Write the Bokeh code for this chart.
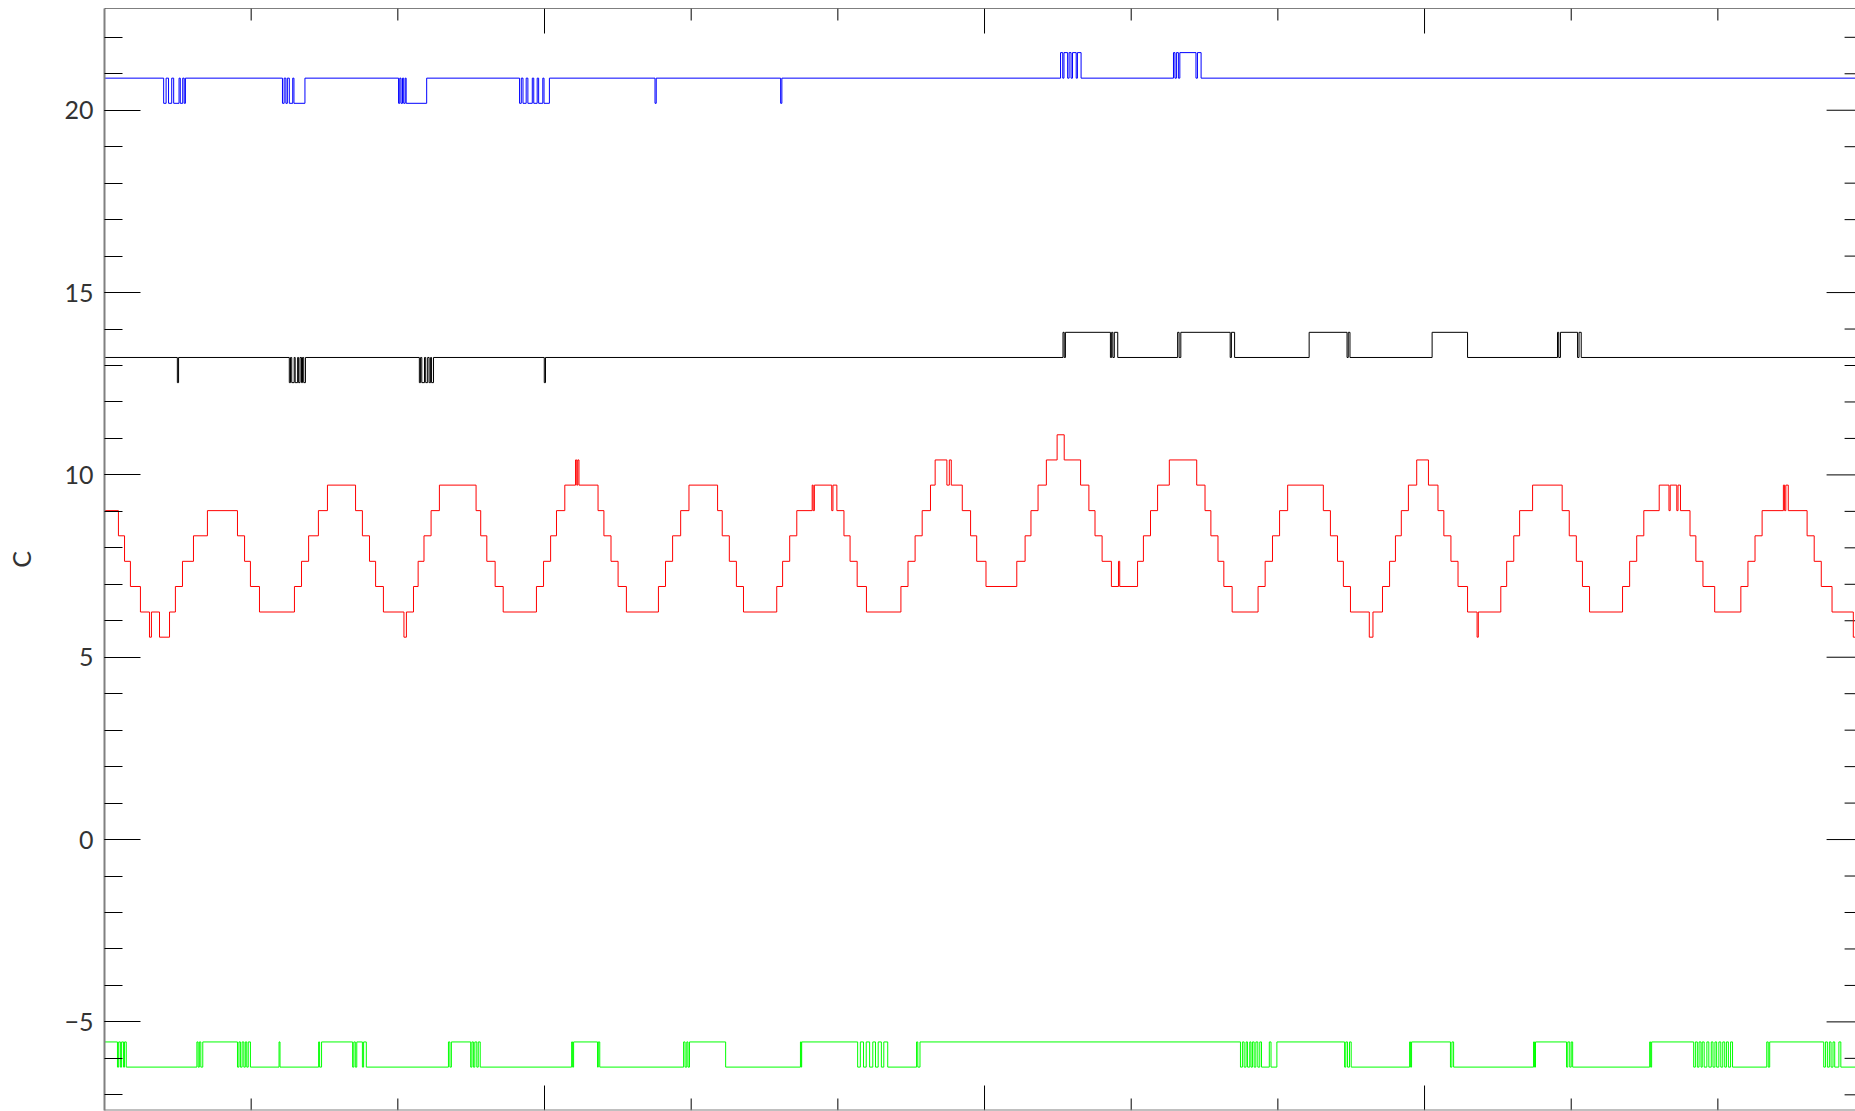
from bokeh.plotting import figure
from bokeh.models import Range1d, LinearAxis, FixedTicker, Span
from bokeh.embed import file_html
from bokeh.resources import INLINE

# ---- data (time in minutes, temperature in C) ----
red_t = [0, 5.7, 8.2, 10.6, 14.7, 18.4, 19.2, 22.5, 26.6, 29.0, 31.9, 36.4, 42.1, 54.4, 57.3, 59.7, 63.4,
         77.7, 80.6, 83.5, 87.5, 91.2, 102.7, 105.5, 108.4, 110.9, 114.1, 122.5, 123.5, 126.4, 128.3, 130.7,
         133.6, 137.0, 152.0, 153.9, 156.4, 159.8, 163.1, 176.7, 179.6, 182.5, 184.9, 188.3, 192.7, 193.2,
         193.6, 194.1, 201.9, 204.3, 207.2, 210.1, 213.5, 226.6, 229.5, 232.4, 235.7, 239.1, 250.8, 252.7,
         255.6, 258.5, 261.4, 275.0, 277.4, 280.3, 283.2, 289.5, 289.9, 290.4, 297.5, 298.0, 299.6, 302.5,
         305.0, 307.9, 311.7, 325.8, 328.7, 331.6, 334.5, 337.9, 339.8, 344.6, 345.6, 346.4, 350.9, 354.3,
         356.8, 360.6, 373.2, 376.6, 379.0, 381.9, 385.3, 389.7, 392.6, 399.3, 402.7, 405.2, 408.1, 411.9,
         414.8, 415.3, 422.6, 425.0, 427.9, 430.8, 435.6, 446.8, 450.2, 452.6, 455.5, 457.9, 461.3, 471.9,
         474.8, 477.8, 480.7, 484.0, 498.6, 501.5, 504.4, 506.8, 509.7, 517.4, 518.9, 522.8, 525.7, 528.1,
         530.5, 533.4, 536.8, 541.6, 545.5, 547.9, 550.8, 553.7, 557.6, 561.5, 562.0, 571.2, 573.6, 576.5,
         578.9, 584.2, 596.3, 599.2, 602.1, 604.6, 607.5, 621.0, 623.9, 626.8, 629.7, 636.0, 640.0, 640.5,
         643.2, 643.7, 644.7, 648.6, 651.0, 653.9, 658.7, 669.4, 672.3, 675.2, 678.1, 686.8, 687.3, 687.8,
         688.8, 696.5, 699.4, 702.3, 706.7, 715.4, 716.3]
red_v = [9.02, 8.33, 7.63, 6.94, 6.24, 5.55, 6.24, 5.55, 6.24, 6.94, 7.63, 8.33, 9.02, 8.33, 7.63, 6.94, 6.24,
         6.94, 7.63, 8.33, 9.02, 9.72, 9.02, 8.33, 7.63, 6.94, 6.24, 5.55, 6.24, 6.94, 7.63, 8.33,
         9.02, 9.72, 9.02, 8.33, 7.63, 6.94, 6.24, 6.94, 7.63, 8.33, 9.02, 9.72, 10.41, 9.72,
         10.41, 9.72, 9.02, 8.33, 7.63, 6.94, 6.24, 6.94, 7.63, 8.33, 9.02, 9.72, 9.02, 8.33,
         7.63, 6.94, 6.24, 6.94, 7.63, 8.33, 9.02, 9.72, 9.02, 9.72, 9.02, 9.72, 9.02, 8.33,
         7.63, 6.94, 6.24, 6.94, 7.63, 8.33, 9.02, 9.72, 10.41, 9.72, 10.41, 9.72, 9.02, 8.33,
         7.63, 6.94, 7.63, 8.33, 9.02, 9.72, 10.41, 11.10, 10.41, 9.72, 9.02, 8.33, 7.63, 6.94,
         7.63, 6.94, 7.63, 8.33, 9.02, 9.72, 10.41, 9.72, 9.02, 8.33, 7.63, 6.94, 6.24, 6.94,
         7.63, 8.33, 9.02, 9.72, 9.02, 8.33, 7.63, 6.94, 6.24, 5.55, 6.24, 6.94, 7.63, 8.33,
         9.02, 9.72, 10.41, 9.72, 9.02, 8.33, 7.63, 6.94, 6.24, 5.55, 6.24, 6.94, 7.63, 8.33,
         9.02, 9.72, 9.02, 8.33, 7.63, 6.94, 6.24, 6.94, 7.63, 8.33, 9.02, 9.72, 9.02, 9.72,
         9.02, 9.72, 9.02, 8.33, 7.63, 6.94, 6.24, 6.94, 7.63, 8.33, 9.02, 9.72, 9.02, 9.72,
         9.02, 8.33, 7.63, 6.94, 6.24, 5.55, 5.55]

blue_t = [0, 24.2, 25.2, 26.2, 27.5, 28.3, 30.5, 31.0, 32.0, 32.6, 33.1,
          72.8, 73.5, 74.2, 74.8, 75.6, 77.0, 77.5, 82.0,
          120.3, 120.8, 121.3, 121.9, 122.4, 123.0, 123.4, 131.8,
          169.8, 170.5, 171.2, 172.5, 173.2, 175.0, 175.6, 177.0, 177.6, 179.3, 179.8, 182.0,
          225.2, 225.7, 276.6, 277.1,
          391.1, 392.0, 392.5, 394.0, 394.6, 395.4, 396.0, 397.5, 398.0, 399.5,
          437.3, 437.9, 438.5, 439.3, 439.9, 446.5, 447.1, 448.6, 716.3]
blue_v = [20.88, 20.19, 20.88, 20.19, 20.88, 20.19, 20.88, 20.19, 20.88, 20.19, 20.88,
          20.19, 20.88, 20.19, 20.88, 20.19, 20.88, 20.19, 20.88,
          20.19, 20.88, 20.19, 20.88, 20.19, 20.88, 20.19, 20.88,
          20.19, 20.88, 20.19, 20.88, 20.19, 20.88, 20.19, 20.88, 20.19, 20.88, 20.19, 20.88,
          20.19, 20.88, 20.19, 20.88,
          21.58, 20.88, 21.58, 20.88, 21.58, 20.88, 21.58, 20.88, 21.58, 20.88,
          21.58, 20.88, 21.58, 20.88, 21.58, 20.88, 21.58, 20.88, 20.88]

black_t = [0, 29.8, 30.3, 75.6, 76.1, 76.6, 77.6, 78.0, 79.0, 79.4, 80.0, 80.6, 81.0, 81.5, 82.2,
           128.8, 129.3, 129.8, 130.9, 131.4, 132.2, 132.8, 133.4, 133.8, 134.6, 179.9, 180.4,
           392.1, 392.6, 393.1, 411.5, 412.0, 412.5, 413.1, 414.5,
           439.0, 439.6, 440.3, 460.5, 461.0, 462.3,
           492.8, 508.3, 508.8, 509.5, 543.1, 557.6,
           594.4, 594.9, 595.6, 602.6, 603.2, 604.1, 716.3]
black_v = [13.22, 12.53, 13.22, 12.53, 13.22, 12.53, 13.22, 12.53, 13.22, 12.53, 13.22, 12.53, 13.22, 12.53, 13.22,
           12.53, 13.22, 12.53, 13.22, 12.53, 13.22, 12.53, 13.22, 12.53, 13.22, 12.53, 13.22,
           13.91, 13.22, 13.91, 13.22, 13.91, 13.22, 13.91, 13.22,
           13.91, 13.22, 13.91, 13.22, 13.91, 13.22,
           13.91, 13.22, 13.91, 13.22, 13.91, 13.22,
           13.91, 13.22, 13.91, 13.22, 13.91, 13.22, 13.22]

green_t = [0, 5.3, 5.8, 6.5, 7.0, 7.8, 8.2, 8.9,
           37.8, 38.3, 38.8, 39.4, 40.2,
           54.4, 55.0, 55.6, 56.3, 57.0, 57.6, 58.2, 58.8, 59.7,
           71.4, 71.8, 87.6, 88.0, 88.8,
           101.5, 102.0, 102.6, 103.2, 105.5, 106.0, 107.1,
           140.7, 141.3, 141.9,
           149.8, 150.3, 150.9, 151.5, 152.3, 152.9, 153.7,
           191.1, 191.5, 191.9, 201.7, 202.0, 202.6,
           236.9, 237.5, 238.2, 238.7, 239.3, 254.1,
           284.7, 285.0, 285.2,
           308.1, 309.2, 310.5, 311.6, 313.0, 314.3, 315.4, 316.5, 317.8, 318.8, 320.4,
           332.2, 332.7, 333.6,
           464.7, 465.5, 466.2, 467.0, 467.6, 468.5, 469.0, 469.6, 470.3, 471.0, 471.8, 472.6, 473.3, 476.5, 477.2, 479.6,
           507.3, 507.8, 508.5, 509.3, 510.0,
           533.9, 534.3, 534.7, 550.6, 551.2, 551.9,
           584.6, 585.0, 585.4, 598.1, 598.6, 599.4, 600.0, 600.6,
           632.1, 632.5, 632.9,
           650.1, 650.8, 651.6, 652.3, 653.1, 653.6, 654.4, 655.5, 656.3, 657.3, 658.0, 658.8, 659.5, 660.4,
           661.2, 662.0, 662.8, 663.5, 664.3, 665.2, 666.0,
           680.0, 680.6, 681.2,
           703.3, 704.0, 704.8, 705.6, 706.3, 707.1, 707.8, 709.5, 710.3, 716.3]
green_v = [-5.55, -6.24, -5.55, -6.24, -5.55, -6.24, -5.55, -6.24,
           -5.55, -6.24, -5.55, -6.24, -5.55,
           -6.24, -5.55, -6.24, -5.55, -6.24, -5.55, -6.24, -5.55, -6.24,
           -5.55, -6.24, -5.55, -6.24, -5.55,
           -6.24, -5.55, -6.24, -5.55, -6.24, -5.55, -6.24,
           -5.55, -6.24, -5.55,
           -6.24, -5.55, -6.24, -5.55, -6.24, -5.55, -6.24,
           -5.55, -6.24, -5.55, -6.24, -5.55, -6.24,
           -5.55, -6.24, -5.55, -6.24, -5.55, -6.24,
           -5.55, -6.24, -5.55,
           -6.24, -5.55, -6.24, -5.55, -6.24, -5.55, -6.24, -5.55, -6.24, -5.55, -6.24,
           -5.55, -6.24, -5.55,
           -6.24, -5.55, -6.24, -5.55, -6.24, -5.55, -6.24, -5.55, -6.24, -5.55, -6.24, -5.55, -6.24, -5.55, -6.24, -5.55,
           -6.24, -5.55, -6.24, -5.55, -6.24,
           -5.55, -6.24, -5.55, -6.24, -5.55, -6.24,
           -5.55, -6.24, -5.55, -6.24, -5.55, -6.24, -5.55, -6.24,
           -5.55, -6.24, -5.55,
           -6.24, -5.55, -6.24, -5.55, -6.24, -5.55, -6.24, -5.55, -6.24, -5.55, -6.24, -5.55, -6.24, -5.55,
           -6.24, -5.55, -6.24, -5.55, -6.24, -5.55, -6.24,
           -5.55, -6.24, -5.55,
           -6.24, -5.55, -6.24, -5.55, -6.24, -5.55, -6.24, -5.55, -6.24, -6.24]

y_major = [-5, 0, 5, 10, 15, 20]
y_minor = list(range(-7, 23))
x_major = [0, 180, 360, 540, 720]
x_minor = list(range(0, 721, 60))
y_title = "C"

FONT = "Lato"

# ---- layout ----
W, H = 1855, 1111
BL, BT, BR, BB = 104, 8, 0, 1
X0, X1 = 0, 716.3
Y0, Y1 = -7.43, 22.79
X_AXIS_RIGHT = 719.2          # right axis of the original sits just past the window edge

p = figure(width=W, height=H, output_backend="svg", toolbar_location=None,
           x_range=Range1d(X0, X1), y_range=Range1d(Y0, Y1),
           x_axis_location=None, y_axis_location=None,
           min_border_left=BL, min_border_right=BR, min_border_top=BT, min_border_bottom=BB)
p.grid.visible = False
p.outline_line_color = None
p.background_fill_color = "white"
p.border_fill_color = "white"

# top and bottom frame lines (no right line: it lies beyond the window)
p.add_layout(Span(location=Y1, dimension="width", line_color="black", line_width=1))
p.add_layout(Span(location=Y0, dimension="width", line_color="#808080", line_width=2))

left = LinearAxis(ticker=FixedTicker(ticks=y_major, minor_ticks=y_minor))
left.major_tick_in = 36
left.major_tick_out = 0
left.minor_tick_in = 18
left.minor_tick_out = 0
left.major_tick_line_color = "black"
left.minor_tick_line_color = "black"
left.axis_line_color = "#808080"
left.axis_line_width = 2
left.major_label_text_font = FONT
left.major_label_text_font_size = "25px"
left.major_label_text_color = "#333333"
left.major_label_standoff = 11
left.axis_label = y_title
left.axis_label_text_font = FONT
left.axis_label_text_font_size = "25px"
left.axis_label_text_font_style = "normal"
left.axis_label_text_color = "#333333"
left.axis_label_standoff = 25
p.add_layout(left, "left")

# mirrored / unlabeled tick marks on the other three sides (lengths in screen px)
px_x = (W - BL - BR) / (X1 - X0)
px_y = (H - BT - BB) / (Y1 - Y0)


def xticks(at_y, direction, major_px, minor_px):
    xs = [v for v in x_minor if v not in x_major]
    p.segment(x0=x_major, y0=[at_y] * len(x_major), x1=x_major,
              y1=[at_y + direction * major_px / px_y] * len(x_major), line_color="black", line_width=1)
    p.segment(x0=xs, y0=[at_y] * len(xs), x1=xs,
              y1=[at_y + direction * minor_px / px_y] * len(xs), line_color="black", line_width=1)


xticks(Y1, -1, 25, 12)
xticks(Y0, 1, 25, 12)

ys = [v for v in y_minor if v not in y_major]
p.segment(x0=[X_AXIS_RIGHT] * len(y_major), y0=y_major, x1=[X_AXIS_RIGHT - 36 / px_x] * len(y_major),
          y1=y_major, line_color="black", line_width=1)
p.segment(x0=[X_AXIS_RIGHT] * len(ys), y0=ys, x1=[X_AXIS_RIGHT - 18 / px_x] * len(ys),
          y1=ys, line_color="black", line_width=1)

# ---- data lines ----
p.step(blue_t, blue_v, mode="after", line_color="#0000ff", line_width=1)
p.step(black_t, black_v, mode="after", line_color="#000000", line_width=1)
p.step(red_t, red_v, mode="after", line_color="#ff0000", line_width=1)
p.step(green_t, green_v, mode="after", line_color="#00ff00", line_width=1)

open("out.html", "w").write(file_html(p, INLINE))
